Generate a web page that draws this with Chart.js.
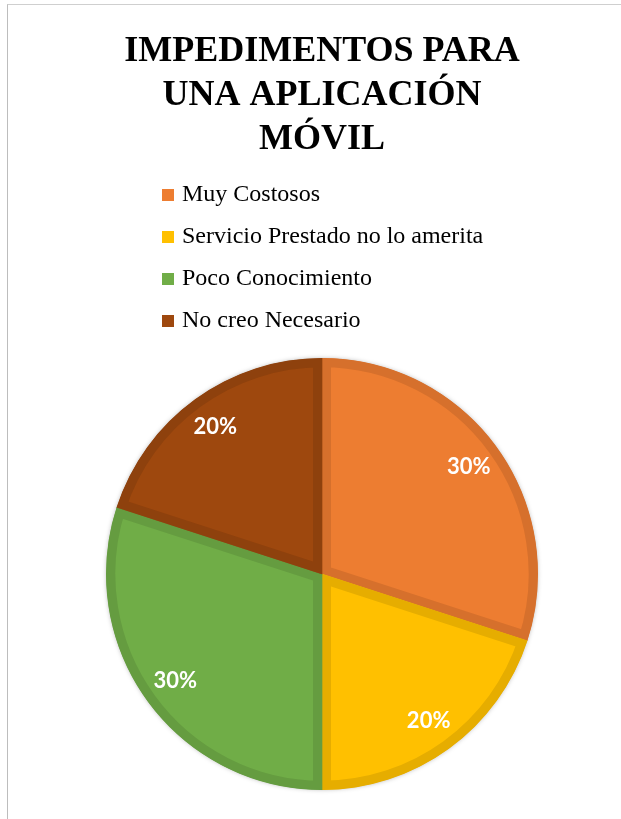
<!DOCTYPE html>
<html lang="es">
<head>
    <meta charset="UTF-8">
    <meta name="viewport" content="width=device-width, initial-scale=1.0">
    <title>Impedimentos para una aplicación móvil</title>
    <script src="https://cdn.jsdelivr.net/npm/chart.js"></script>
    <style>
        html, body { margin: 0; padding: 0; background: #fff; }
        .frame {
            position: absolute; left: 7px; top: 4px; width: 700px; height: 900px;
            border-left: 1px solid #bdbdbd; border-top: 1px solid #cfcfcf;
        }
        #impChart { position: absolute; left: 0; top: 0; }
    </style>
</head>
<body>
    <div class="frame"></div>
    <canvas id="impChart" width="621" height="819"></canvas>
    <script>
        const titleLines = ['IMPEDIMENTOS PARA', 'UNA APLICACIÓN', 'MÓVIL'];
        const categories = ['Muy Costosos', 'Servicio Prestado no lo amerita', 'Poco Conocimiento', 'No creo Necesario'];
        const percentages = [30, 20, 30, 20];
        const fillColors = ['#ED7D31', '#FFC000', '#70AD47', '#9E480E'];
        const edgeColors = ['#D6702C', '#E6AD00', '#659C40', '#8E410D'];

        // percentage text on each slice, placed along the middle angle
        const sliceLabels = {
            id: 'sliceLabels',
            afterDatasetsDraw(chart) {
                const ctx = chart.ctx;
                const meta = chart.getDatasetMeta(0);
                ctx.save();
                ctx.font = 'bold 22px Lato';
                ctx.fillStyle = '#fff';
                ctx.textAlign = 'center';
                ctx.textBaseline = 'middle';
                meta.data.forEach((arc, i) => {
                    const p = arc.getProps(['x', 'y', 'startAngle', 'endAngle', 'outerRadius'], true);
                    const mid = (p.startAngle + p.endAngle) / 2;
                    const r = p.outerRadius * 0.84;
                    ctx.fillText(percentages[i] + '%', p.x + Math.cos(mid) * r, p.y + Math.sin(mid) * r);
                });
                ctx.restore();
            }
        };

        // soft shadow under the whole pie
        const pieShadow = {
            id: 'pieShadow',
            beforeDatasetsDraw(chart) {
                const arc = chart.getDatasetMeta(0).data[0];
                if (!arc) return;
                const p = arc.getProps(['x', 'y', 'outerRadius'], true);
                const ctx = chart.ctx;
                ctx.save();
                ctx.shadowColor = 'rgba(0, 0, 0, 0.35)';
                ctx.shadowBlur = 5;
                ctx.fillStyle = '#fff';
                ctx.beginPath();
                ctx.arc(p.x, p.y, p.outerRadius - 1, 0, Math.PI * 2);
                ctx.fill();
                ctx.restore();
            }
        };

        // indent the stacked legend rows under the title
        const legendIndent = {
            id: 'legendIndent',
            afterLayout(chart) {
                chart.legend.left += 26;
            }
        };

        new Chart(document.getElementById('impChart'), {
            type: 'pie',
            data: {
                labels: categories,
                datasets: [{
                    data: percentages,
                    backgroundColor: fillColors,
                    borderColor: edgeColors,
                    borderWidth: 9,
                    borderAlign: 'inner',
                    borderJoinStyle: 'miter',
                    radius: 216,
                    clip: false
                }]
            },
            options: {
                responsive: false,
                animation: false,
                layout: { padding: { top: 0, left: 122, right: 99, bottom: 14 } },
                plugins: {
                    title: {
                        display: true,
                        text: titleLines,
                        color: '#000',
                        font: { family: '"Liberation Serif", "Times New Roman", serif', size: 36, weight: 'bold', lineHeight: 44 / 36 },
                        padding: { top: 30, bottom: 3 }
                    },
                    legend: {
                        position: 'top',
                        align: 'start',
                        labels: {
                            color: '#000',
                            font: { family: '"Liberation Serif", "Times New Roman", serif', size: 24 },
                            boxWidth: 4,
                            boxHeight: 4,
                            padding: 18,
                            generateLabels(chart) {
                                return categories.map((text, i) => ({
                                    text,
                                    fillStyle: fillColors[i],
                                    strokeStyle: fillColors[i],
                                    lineWidth: 8,
                                    fontColor: '#000',
                                    hidden: false,
                                    index: i
                                }));
                            }
                        }
                    },
                    tooltip: { enabled: false }
                }
            },
            plugins: [pieShadow, sliceLabels, legendIndent]
        });
    </script>
</body>
</html>
